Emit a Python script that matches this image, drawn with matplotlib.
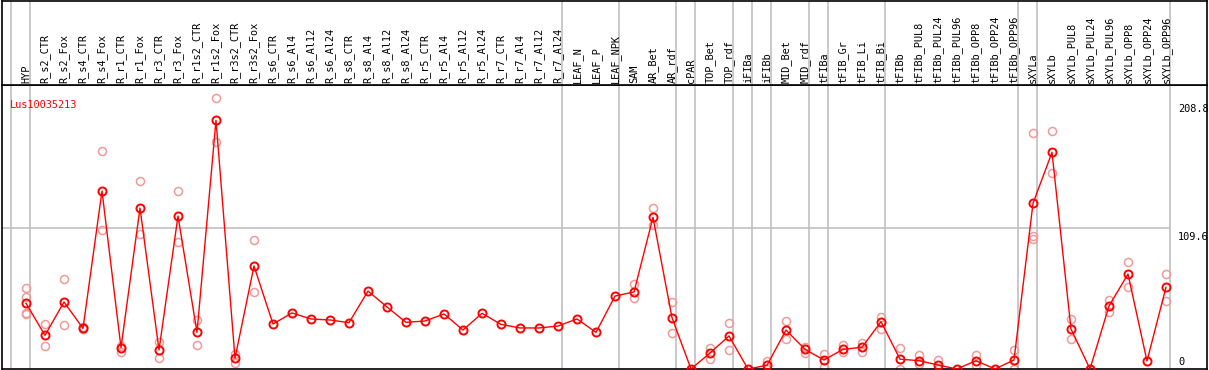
import numpy as np
import matplotlib
matplotlib.use("Agg")
import matplotlib.pyplot as plt
from matplotlib.transforms import blended_transform_factory

# ── data ─────────────────────────────────────────────────────────────────
GENE = "Lus10035213"

SAMPLES = [
    "HYP", "R_s2_CTR", "R_s2_Fox", "R_s4_CTR", "R_s4_Fox", "R_r1_CTR",
    "R_r1_Fox", "R_r3_CTR", "R_r3_Fox", "R_r1s2_CTR", "R_r1s2_Fox",
    "R_r3s2_CTR", "R_r3s2_Fox", "R_s6_CTR", "R_s6_Al4", "R_s6_Al12",
    "R_s6_Al24", "R_s8_CTR", "R_s8_Al4", "R_s8_Al12", "R_s8_Al24",
    "R_r5_CTR", "R_r5_Al4", "R_r5_Al12", "R_r5_Al24", "R_r7_CTR",
    "R_r7_Al4", "R_r7_Al12", "R_r7_Al24", "LEAF_N", "LEAF_P", "LEAF_NPK",
    "SAM", "AR_Bet", "AR_rdf", "cPAR", "TOP_Bet", "TOP_rdf", "iFIBa",
    "iFIBb", "MID_Bet", "MID_rdf", "tFIBa", "tFIB_Gr", "tFIB_Li", "tFIB_Bi",
    "tFIBb", "tFIBb_PUL8", "tFIBb_PUL24", "tFIBb_PUL96", "tFIBb_OPP8",
    "tFIBb_OPP24", "tFIBb_OPP96", "sXYLa", "sXYLb", "sXYLb_PUL8",
    "sXYLb_PUL24", "sXYLb_PUL96", "sXYLb_OPP8", "sXYLb_OPP24", "sXYLb_OPP96",
]

MEANS = [
    51.1, 26.2, 52.1, 31.6, 138.4, 16.6, 125.1, 14.8, 118.9, 28.5, 193.3,
    8.3, 80.1, 35.0, 43.6, 38.9, 38.1, 36.0, 60.6, 48.2, 36.3,
    37.3, 42.8, 30.3, 43.3, 34.7, 31.9, 31.9, 33.4, 38.9, 28.5, 56.7,
    59.9, 117.9, 39.9, 0.0, 12.4, 25.7, 0.0, 2.9, 30.3, 15.3, 7.0,
    15.3, 16.9, 36.8, 7.6, 6.5, 3.1, 0.0, 6.5, 0.0, 7.0,
    128.8, 168.4, 31.1, 0.0, 49.0, 73.8, 6.2, 63.5,
]

REPLICATES = [
    [62.7, 55.7, 43.8, 42.5], [34.7, 17.9], [69.7, 34.0], [32.9, 30.8],
    [169.5, 107.8], [17.9, 13.5], [146.1, 104.7], [21.2, 8.3], [138.4, 98.9],
    [38.1, 18.7], [210.4, 176.2], [11.7, 4.4], [100.3, 59.9], [], [], [], [],
    [], [], [], [], [], [], [], [], [], [], [], [], [], [], [],
    [66.1, 55.0], [125.1, 111.9], [52.1, 27.7], [], [16.6, 7.5], [35.5, 14.5],
    [], [6.2, 0.0], [37.3, 23.1], [17.3, 12.7], [11.4, 1.8], [18.7, 13.5],
    [20.0, 13.5], [40.2, 30.9], [16.1, 0.0], [10.9, 3.6], [7.0, 0.0], [],
    [10.9, 3.1], [], [14.8, 0.0], [183.2, 103.4, 100.8], [185.0, 152.1],
    [38.9, 23.3], [], [53.6, 44.5], [82.9, 63.5], [], [73.6, 52.9],
]

# vertical separators sit right after these sample indices (-1 = left edge)
GROUP_ENDS = [-1, 0, 28, 31, 34, 35, 37, 38, 39, 41, 42, 45, 52, 53, 60]

Y_TICKS = [0, 109.6, 208.8]
Y_TOP = 220.8

# ── plot ─────────────────────────────────────────────────────────────────
W, H = 1209, 370
fig = plt.figure(figsize=(W / 100, H / 100), dpi=100)
font = {"family": "DejaVu Sans Mono", "size": 7.4}

x_left = (1.5 - 26) / 19
x_right = (1207 - 26) / 19

ax = fig.add_axes([1.5 / W, 1 / H, 1205.5 / W, 284 / H])
head = fig.add_axes([1.5 / W, 285 / H, 1205.5 / W, 84.5 / H])

for a in (ax, head):
    a.set_xlim(x_left, x_right)
    a.set_xticks([])
    a.set_yticks([])
    for s in a.spines.values():
        s.set_color("black")
        s.set_linewidth(1.2)
    for g in GROUP_ENDS:
        a.axvline(g + 0.23, color="#c0c0c0", lw=1.2, zorder=0)

ax.set_ylim(0, Y_TOP)
ax.plot([x_left, 60.23], [109.6, 109.6], color="#c0c0c0", lw=1.2, zorder=0)

x = np.arange(len(SAMPLES))
for i, reps in enumerate(REPLICATES):
    if reps:
        ax.plot([i] * len(reps), reps, "o", ms=5.8, mfc="none",
                mec="#f09a9a", mew=1.1, zorder=2, clip_on=False)
ax.plot(x, MEANS, "-", color="red", lw=1.0, zorder=3)
ax.plot(x, MEANS, "o", ms=5.8, mfc="none", mec="red", mew=1.4,
        zorder=4, clip_on=False)

ax.text(-0.85, 205, GENE, color="red", va="center", ha="left", **font)

ytr = blended_transform_factory(ax.transAxes, ax.transData)
for v in Y_TICKS:
    va = "bottom" if v == 0 else "top"
    ax.text((1178 - 1.5) / 1205.5, v - (3 if v else -1.5), f"{v:g}" if v else "0",
            transform=ytr, ha="left", va=va, **font)

htr = blended_transform_factory(head.transData, head.transAxes)
for i, lab in enumerate(SAMPLES):
    head.text(i, 0.025, lab, rotation=90, ha="center", va="bottom",
              transform=htr, **font)

fig.savefig("out.png", dpi=100)
